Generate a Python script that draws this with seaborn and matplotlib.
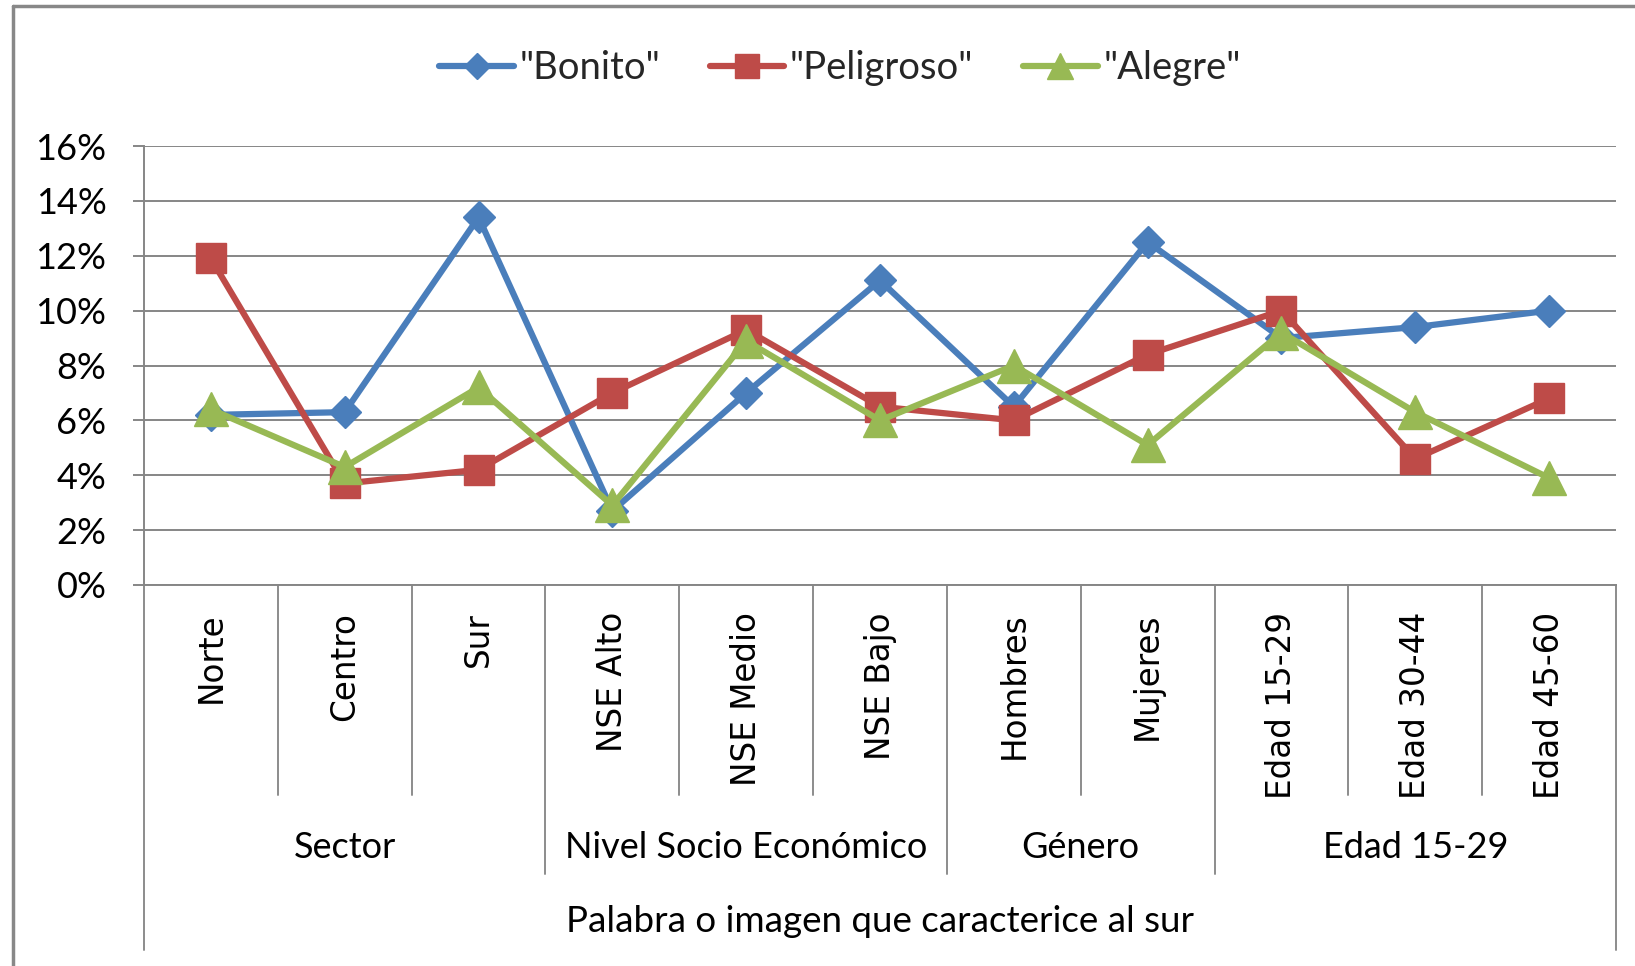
import matplotlib
matplotlib.use("Agg")
import matplotlib.pyplot as plt
import matplotlib.transforms as mtransforms
from matplotlib.ticker import FuncFormatter, FixedLocator
import seaborn as sns
import pandas as pd
import numpy as np

# ---- data ----
categories = ["Norte", "Centro", "Sur", "NSE Alto", "NSE Medio", "NSE Bajo",
              "Hombres", "Mujeres", "Edad 15-29", "Edad 30-44", "Edad 45-60"]
groups = ["Sector", "Nivel Socio Económico", "Género", "Edad 15-29"]
group_sizes = [3, 3, 2, 3]
axis_title = "Palabra o imagen que caracterice al sur"

series_names = ['"Bonito"', '"Peligroso"', '"Alegre"']
bonito = [6.2, 6.3, 13.4, 2.7, 7.0, 11.1, 6.5, 12.5, 9.0, 9.4, 10.0]
peligroso = [11.9, 3.7, 4.2, 7.0, 9.3, 6.5, 6.0, 8.4, 10.0, 4.6, 6.8]
alegre = [6.4, 4.3, 7.2, 2.9, 8.9, 6.0, 8.0, 5.1, 9.2, 6.3, 3.9]
y_ticks = [0, 2, 4, 6, 8, 10, 12, 14, 16]

colors = ["#4A7EBB", "#BE4B48", "#98B954"]
markers = ["D", "s", "^"]
msizes = [16, 21, 24]

sns.set_theme(style="white")
humanist = ["Lato", "DejaVu Sans"]
plt.rcParams["font.family"] = humanist

W, H, DPI = 1635, 966, 100
fig = plt.figure(figsize=(W / DPI, H / DPI), dpi=DPI)
fig.patch.set_facecolor("white")

# axes placement (pixel coords)
L, R, T, B = 144, 1616, 146, 585
ax = fig.add_axes([L / W, 1 - B / H, (R - L) / W, (B - T) / H])

x = np.arange(len(categories))
for name, vals, c, m, ms in zip(series_names, [bonito, peligroso, alegre], colors, markers, msizes):
    df = pd.DataFrame({"x": x, "y": vals})
    sns.lineplot(data=df, x="x", y="y", ax=ax, color=c, marker=m, markersize=ms,
                 markeredgecolor=c, markeredgewidth=1, linewidth=4.5, label=name,
                 legend=False, zorder=3)

ax.set_xlim(-0.5, len(categories) - 0.5)
ax.set_ylim(0, 16)
ax.yaxis.set_major_locator(FixedLocator(y_ticks))
ax.yaxis.set_major_formatter(FuncFormatter(lambda v, p: f"{int(round(v))}%"))
ax.grid(axis="y", color="#868686", linewidth=1.4)
ax.grid(axis="x", visible=False)
ax.set_axisbelow(True)
ax.set_xlabel("")
ax.set_ylabel("")
ax.set_xticks([])
for s in ["top", "right"]:
    ax.spines[s].set_visible(False)
for s in ["left", "bottom"]:
    ax.spines[s].set_color("#868686")
    ax.spines[s].set_linewidth(1.4)
ax.tick_params(axis="y", which="major", left=True, length=8, width=1.4,
               color="#868686", pad=19, labelsize=26, labelcolor="black")
for lab in ax.get_yticklabels():
    lab.set_fontfamily(humanist)

trans = mtransforms.blended_transform_factory(ax.transData, ax.transAxes)
sep_col = "#8C8C8C"
ax_h = B - T
def frac(py):
    return (B - py) / ax_h

y_inner = frac(795)
y_group = frac(874)
y_outer = frac(950)

# separators
bounds = np.cumsum(group_sizes)[:-1]
for k in range(1, len(categories)):
    ybot = y_group if k in bounds else y_inner
    ax.plot([k - 0.5, k - 0.5], [0, ybot], transform=trans, color=sep_col,
            linewidth=1.4, clip_on=False)
for xe in [-0.5, len(categories) - 0.5]:
    ax.plot([xe, xe], [0, y_outer], transform=trans, color=sep_col,
            linewidth=1.4, clip_on=False)

# category labels
for i, cat in enumerate(categories):
    ax.text(i, frac(612), cat, transform=trans, rotation=90, ha="center", va="top",
            fontsize=23.5, family="DejaVu Sans", color="black")

# group labels
start = 0
for g, n in zip(groups, group_sizes):
    cx = start + (n - 1) / 2
    ax.text(cx, frac(848), g, transform=trans, ha="center", va="center",
            fontsize=26, family=humanist, color="black")
    start += n

ax.text((len(categories) - 1) / 2, frac(922), axis_title, transform=trans,
        ha="center", va="center", fontsize=26.5, family=humanist, color="black")

# legend
handles, labels = ax.get_legend_handles_labels()
leg = fig.legend(handles, labels, loc="center", bbox_to_anchor=(840 / W, 1 - 68 / H),
                 ncol=3, frameon=False, prop={"family": humanist, "size": 27.5},
                 handlelength=1.95, handletextpad=0.15, columnspacing=1.3,
                 markerscale=0.8)

# outer frame (left and top visible)
fig.add_artist(plt.Line2D([13 / W, 13 / W], [0, 1 - 6 / H], transform=fig.transFigure,
                          color="#888888", linewidth=2.5))
fig.add_artist(plt.Line2D([13 / W, 1], [1 - 6 / H, 1 - 6 / H], transform=fig.transFigure,
                          color="#888888", linewidth=2.5))

fig.savefig("out.png", dpi=DPI, facecolor="white")
